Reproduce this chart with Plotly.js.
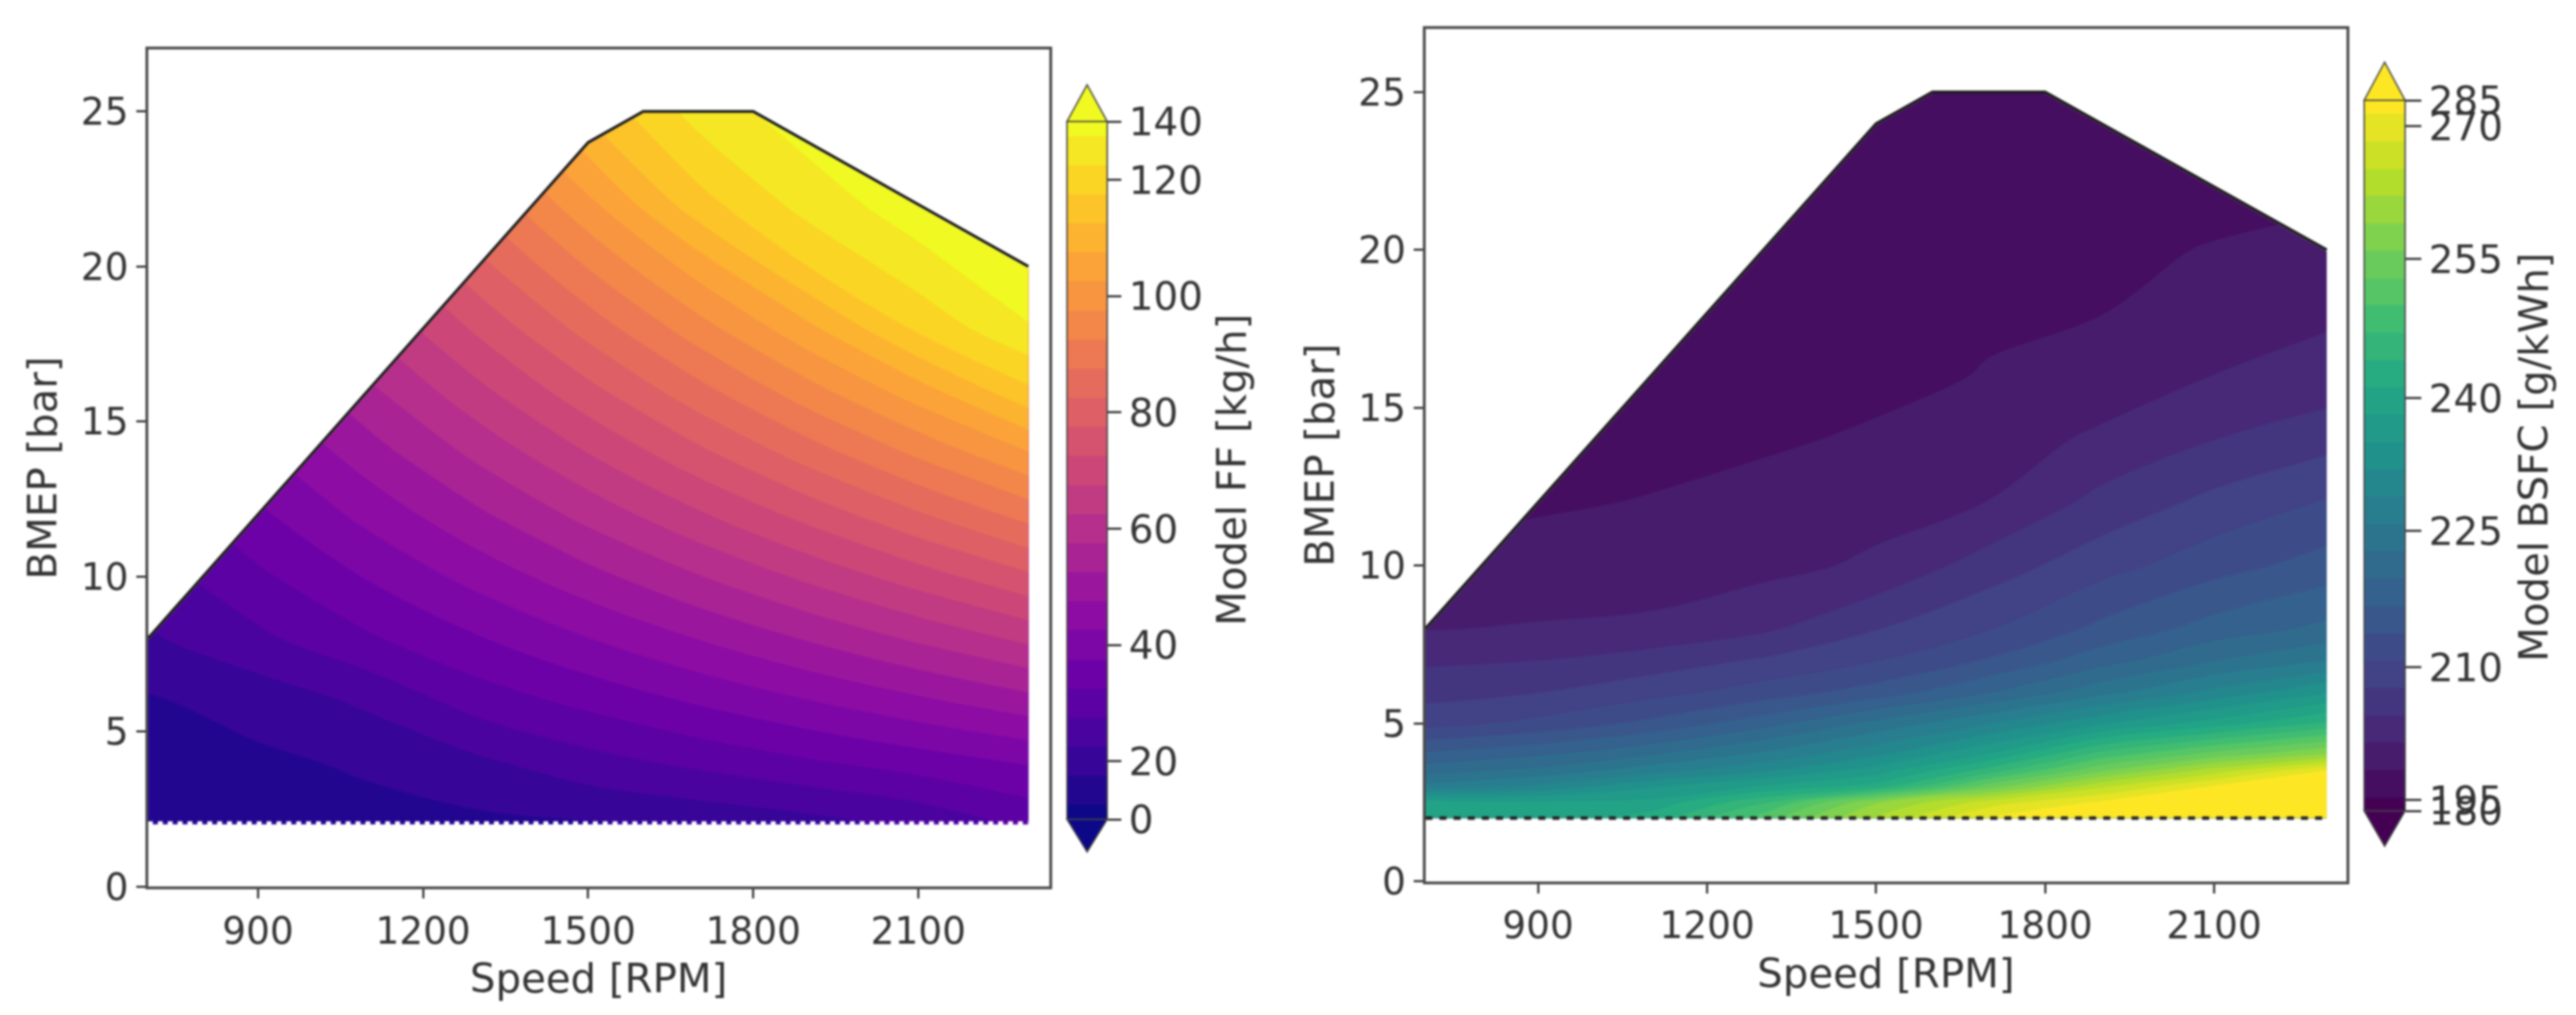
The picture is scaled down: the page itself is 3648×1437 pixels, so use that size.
<!DOCTYPE html>
<html><head><meta charset="utf-8">
<script src="https://cdn.plot.ly/plotly-3.0.1.min.js"></script>
<style>html,body{margin:0;padding:0;background:#fff}#plot{width:3648px;height:1437px;filter:blur(1.5px)}</style>
</head><body><div id="plot"></div>
<script>
// ---- data ----
const speedGrid = [700, 900, 1100, 1300, 1500, 1700, 1900, 2100, 2300];
const ffBmep = [2, 4, 6, 8, 10, 12, 14, 16, 18, 20, 22, 25];
const ffValues = [
 [5, 5.5, 6.5, 7.5, 9, 12, 16, 21, 26],
 [6.5, 8, 11.5, 18, 23.1, 26.2, 29.3, 32.3, 35.4],
 [9, 14, 21, 27.3, 31.5, 35.7, 39.9, 44.1, 48.3],
 [18.6, 23.9, 29.3, 34.6, 39.9, 45.2, 50.5, 55.9, 61.2],
 [22.5, 29.0, 35.4, 41.9, 48.3, 54.7, 61.2, 67.6, 74.1],
 [26.5, 34.0, 41.6, 49.1, 56.7, 64.3, 71.8, 79.4, 86.9],
 [30.4, 39.1, 47.7, 56.4, 65.1, 73.8, 82.5, 91.1, 99.8],
 [34.3, 44.1, 53.9, 63.7, 73.5, 83.3, 93.1, 102.9, 114],
 [38.2, 49.1, 60.1, 71.0, 81.9, 92.8, 103.7, 116, 129],
 [42.1, 54.2, 66.2, 78.3, 90.3, 102.3, 115, 126, 139],
 [46.1, 59.2, 72.4, 85.5, 98.7, 113, 124, 136, 150],
 [51.9, 66.8, 81.6, 96.5, 111, 124, 136, 150, 165]
];
const bsfcBmep = [2, 2.5, 3, 3.5, 4, 5, 6, 7, 8, 10, 12, 14, 16, 18, 20, 22, 25];
const bsfcValues = [
 [238, 239, 241, 250, 261, 272, 280, 283, 287],
 [237.5, 237, 237.5, 245, 257, 265, 272, 278, 283],
 [225, 228, 233, 237, 241, 253, 263, 271, 276],
 [220, 222, 226, 230, 235, 244, 254, 262, 270],
 [216, 218, 221, 225, 230, 237, 247, 253, 258],
 [208, 210, 213, 217, 222, 227, 233, 238, 243],
 [205, 206, 208, 210.5, 213.5, 218, 223, 228, 233],
 [202.5, 203, 204.5, 206.5, 209, 212.5, 217, 221, 224],
 [199.8, 200.2, 200.5, 202.5, 206, 209, 213, 216.5, 219],
 [197.5, 198, 198.5, 199, 200.5, 204.5, 208, 211, 213.5],
 [196, 196.5, 197, 197.7, 198.8, 200, 204, 207, 209.5],
 [196, 196, 196, 196.5, 197.2, 198.5, 200.5, 203, 205],
 [195.5, 195.5, 195.5, 196, 196.2, 197, 198.2, 200, 201],
 [195, 195, 195, 195.5, 196, 196.5, 196.8, 198.5, 199.5],
 [195, 195, 195, 195, 195.5, 196, 196.3, 197, 198],
 [194, 194, 194, 195, 195, 195.5, 196, 196, 196],
 [193, 193, 193, 193, 193, 193.5, 194, 195, 195]
];
const envelopeSpeed = [700, 1500, 1600, 1800, 2300];
const envelopeBmep = [8, 24, 25, 25, 20];
const minBmep = 2;
const xTicks = [900, 1200, 1500, 1800, 2100];
const yTicks = [0, 5, 10, 15, 20, 25];
const ffTicks = [0, 20, 40, 60, 80, 100, 120, 140];
const ffTickPos = [0, 0.5, 1.5, 2.5, 3.5, 4.5, 5.5, 6];
const bsfcTicks = [180, 195, 210, 225, 240, 255, 270, 285];
const bsfcTickPos = [0, 0.08, 1.05, 2.05, 3.02, 4.04, 5.01, 5.2];
const plasma = ['#0d0887','#41049d','#6a00a8','#8f0da4','#b12a90','#cc4778','#e16462','#f2844b','#fca636','#fcce25','#f0f921'];
const viridis = ['#440154','#482475','#414487','#355f8d','#2a788e','#21918c','#22a884','#44bf70','#7ad151','#bddf26','#fde725'];

// ---- helpers ----
const W = 3648, H = 1437;
const FONT = 'DejaVu Sans', INK = '#333333', FS = 53, TS = 57;
const csOf = a => a.map((c, i) => [i / (a.length - 1), c]);
// colorbar spacing of the original is uniform per level: map a value to its bar position
function toBar(v, ticks, pos) {
  if (v <= ticks[0]) return pos[0];
  for (let i = 1; i < ticks.length; i++)
    if (v <= ticks[i]) return pos[i-1] + (v - ticks[i-1]) / (ticks[i] - ticks[i-1]) * (pos[i] - pos[i-1]);
  return pos[pos.length - 1];
}
const dom = (a, b, S) => [a / S, b / S];
const ydom = (top, bot) => [1 - bot / H, 1 - top / H];

function panel(n, cb, bmep, vals, ticks, tpos, bandSize, cs) {
  const xa = n === 1 ? 'x' : 'x2', ya = n === 1 ? 'y' : 'y2';
  const half = bandSize / 2, top = tpos[tpos.length - 1];
  const traces = [{
    type: 'contour', xaxis: xa, yaxis: ya, x: speedGrid, y: bmep,
    // plotly's bar runs half a band past the first and last level
    z: vals.map(r => r.map(v => toBar(v, ticks, tpos) + half)),
    autocontour: false,
    contours: {coloring: 'fill', showlines: false, start: half, end: top - half, size: bandSize},
    line: {width: 0, smoothing: 1},
    colorscale: cs, showscale: true, hoverinfo: 'skip',
    colorbar: {
      x: cb.l / W, xanchor: 'left', xpad: 0, ypad: 0,
      y: 1 - cb.top / H, yanchor: 'top',
      thicknessmode: 'pixels', thickness: cb.r - cb.l,
      lenmode: 'pixels', len: cb.bot - cb.top,
      outlinecolor: '#444', outlinewidth: 2,
      tickmode: 'array', tickvals: tpos, ticktext: ticks.map(String),
      ticks: 'outside', ticklen: cb.tick, tickwidth: 3, tickcolor: INK,
      tickfont: {family: FONT, size: 55, color: INK}
    }
  }];
  // white cover above the full-load envelope
  const topB = Math.max(...envelopeBmep);
  const cover = {type: 'scatter', xaxis: xa, yaxis: ya, mode: 'lines', hoverinfo: 'skip', showlegend: false,
    fill: 'toself', fillcolor: '#ffffff', line: {width: 4, color: '#ffffff'}};
  traces.push(Object.assign({}, cover, {
    x: [speedGrid[0], ...envelopeSpeed.slice(0, 3), speedGrid[0]],
    y: [topB, ...envelopeBmep.slice(0, 3), topB]
  }));
  traces.push(Object.assign({}, cover, {
    x: [envelopeSpeed[3], envelopeSpeed[4], envelopeSpeed[4], envelopeSpeed[3]],
    y: [envelopeBmep[3], envelopeBmep[4], topB, envelopeBmep[3]]
  }));
  traces.push({
    type: 'scatter', xaxis: xa, yaxis: ya, mode: 'lines', hoverinfo: 'skip', showlegend: false,
    x: envelopeSpeed, y: envelopeBmep, line: {color: '#1a1a1a', width: 4}
  });
  return traces;
}
function axes(box, anchor, xrange) {
  const common = {
    showgrid: false, zeroline: false, showline: true, mirror: true, linecolor: '#4a4a4a', linewidth: 4,
    ticks: 'outside', ticklen: 13, tickwidth: 3, tickcolor: INK,
    tickfont: {family: FONT, size: FS, color: INK}, automargin: false
  };
  return {
    x: Object.assign({}, common, {
      domain: dom(box.l, box.r, W), range: xrange, anchor: anchor[1],
      tickmode: 'array', tickvals: xTicks, ticktext: xTicks.map(String),
      title: {text: 'Speed [RPM]', standoff: 20, font: {family: FONT, size: TS, color: INK}}
    }),
    y: Object.assign({}, common, {
      domain: ydom(box.top, box.bot), range: [0, 27], anchor: anchor[0],
      tickmode: 'array', tickvals: yTicks, ticktext: yTicks.map(String),
      title: {text: 'BMEP [bar]', standoff: 16, font: {family: FONT, size: TS, color: INK}}
    })
  };
}
function tips(cb, colTop, colBot) {
  const mid = (cb.l + cb.r) / 2;
  const px = x => x / W, py = y => 1 - y / H;
  const mk = (yS, yT, c) => ({
    type: 'path', xref: 'paper', yref: 'paper', layer: 'above',
    path: `M${px(cb.l)},${py(yS)} L${px(mid)},${py(yT)} L${px(cb.r)},${py(yS)} Z`,
    fillcolor: c, line: {color: '#444', width: 2}
  });
  return [mk(cb.top, cb.tipTop, colTop), mk(cb.bot, cb.tipBot, colBot)];
}
const cbTitle = (text, x, y) => ({
  text, xref: 'paper', yref: 'paper', x: x / W, y: 1 - y / H, xanchor: 'center', yanchor: 'middle',
  textangle: -90, showarrow: false, font: {family: FONT, size: TS, color: INK}
});

const box1 = {l: 209.5, r: 1486, top: 70, bot: 1255};
const box2 = {l: 2018.5, r: 3323, top: 41, bot: 1247.5};
const cb1 = {l: 1511, r: 1568, top: 172, bot: 1160, tipTop: 120, tipBot: 1206, tick: 19};
const cb2 = {l: 3348, r: 3406, top: 142, bot: 1148, tipTop: 88, tipBot: 1198, tick: 22};

const t1 = panel(1, cb1, ffBmep, ffValues, ffTicks, ffTickPos, 0.25, csOf(plasma));
const t2 = panel(2, cb2, bsfcBmep, bsfcValues, bsfcTicks, bsfcTickPos, 0.2, csOf(viridis));
t1.push({type: 'scatter', xaxis: 'x', yaxis: 'y', mode: 'lines', hoverinfo: 'skip', showlegend: false,
  x: [speedGrid[0], speedGrid[speedGrid.length-1]], y: [minBmep, minBmep],
  line: {color: '#ffffff', width: 9, dash: '7px,7px'}});
t2.push({type: 'scatter', xaxis: 'x2', yaxis: 'y2', mode: 'lines', hoverinfo: 'skip', showlegend: false,
  x: [speedGrid[0], speedGrid[speedGrid.length-1]], y: [minBmep, minBmep],
  line: {color: '#222222', width: 5, dash: '10px,10px'}});

const a1 = axes(box1, ['x', 'y'], [700, 2338]);
const a2 = axes(box2, ['x2', 'y2'], [700, 2335]);
Plotly.newPlot('plot', [...t1, ...t2], {
  width: W, height: H, showlegend: false,
  margin: {l: 0, r: 0, t: 0, b: 0, pad: 0, autoexpand: false},
  paper_bgcolor: '#ffffff', plot_bgcolor: '#ffffff',
  font: {family: FONT, color: INK},
  xaxis: a1.x, yaxis: a1.y, xaxis2: a2.x, yaxis2: a2.y,
  annotations: [cbTitle('Model FF [kg/h]', 1744, 665), cbTitle('Model BSFC [g/kWh]', 3588, 647)],
  shapes: [...tips(cb1, plasma[plasma.length-1], plasma[0]), ...tips(cb2, viridis[viridis.length-1], viridis[0])]
}, {displayModeBar: false, staticPlot: true});
</script></body></html>
